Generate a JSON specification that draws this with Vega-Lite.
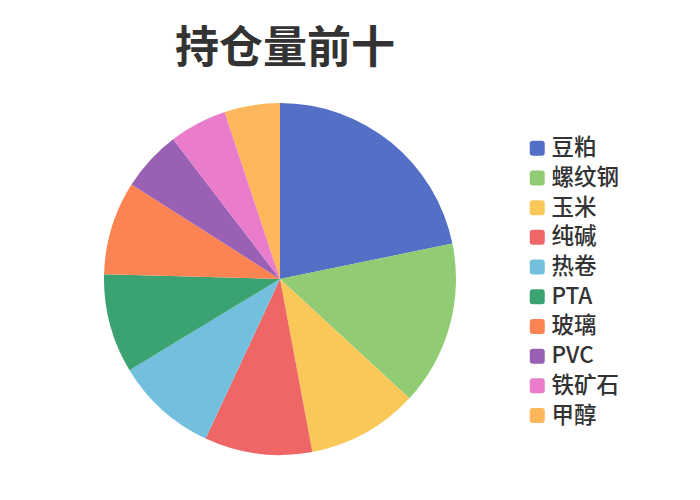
{
  "$schema": "https://vega.github.io/schema/vega-lite/v6.json",
  "autosize": {"type": "none"},
  "padding": {"left": 0, "top": 79, "right": 140, "bottom": 21},
  "width": 560,
  "height": 400,
  "background": "white",
  "config": {"view": {"stroke": null}},
  "title": {
    "text": "持仓量前十",
    "anchor": "middle",
    "frame": "group",
    "font": "Noto Sans CJK SC",
    "fontSize": 44,
    "fontWeight": "bold",
    "color": "#333333",
    "dx": 5,
    "offset": 7
  },
  "data": {
    "values": [
      {"rank": 1, "name": "豆粕", "share": 21.8},
      {"rank": 2, "name": "螺纹钢", "share": 15.1},
      {"rank": 3, "name": "玉米", "share": 10.2},
      {"rank": 4, "name": "纯碱", "share": 9.9},
      {"rank": 5, "name": "热卷", "share": 9.4},
      {"rank": 6, "name": "PTA", "share": 9.1},
      {"rank": 7, "name": "玻璃", "share": 8.6},
      {"rank": 8, "name": "PVC", "share": 5.6},
      {"rank": 9, "name": "铁矿石", "share": 5.3},
      {"rank": 10, "name": "甲醇", "share": 5.1}
    ]
  },
  "mark": {"type": "arc", "radius": 176},
  "encoding": {
    "theta": {"field": "share", "type": "quantitative", "stack": true},
    "order": {"field": "rank", "type": "quantitative", "sort": "ascending"},
    "color": {
      "field": "name",
      "type": "nominal",
      "sort": null,
      "scale": {
        "domain": ["豆粕", "螺纹钢", "玉米", "纯碱", "热卷", "PTA", "玻璃", "PVC", "铁矿石", "甲醇"],
        "range": ["#5470c6", "#91cc75", "#fac858", "#ee6666", "#73c0de", "#3ba272", "#fc8452", "#9a60b4", "#ea7ccc", "#fcb75a"]
      },
      "legend": {
        "title": null,
        "orient": "none",
        "legendX": 526,
        "legendY": 58,
        "symbolType": "M-1,-0.6 Q-1,-1 -0.6,-1 L0.6,-1 Q1,-1 1,-0.6 L1,0.6 Q1,1 0.6,1 L-0.6,1 Q-1,1 -1,0.6 Z",
        "symbolSize": 225,
        "symbolStrokeWidth": 0,
        "symbolOpacity": 1,
        "labelFont": "Noto Sans CJK SC",
        "labelFontSize": 22.5,
        "labelFontWeight": 500,
        "labelColor": "#333333",
        "labelOffset": 3,
        "rowPadding": 6.7,
        "labelLimit": 200
      }
    }
  }
}
